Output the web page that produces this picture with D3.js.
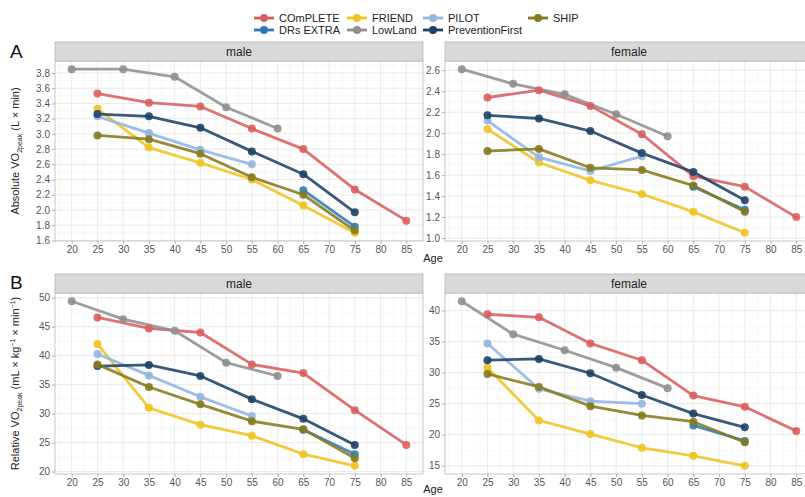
<!DOCTYPE html>
<html><head><meta charset="utf-8">
<script src="https://cdn.jsdelivr.net/npm/d3@7"></script>
<style>
html,body{margin:0;padding:0;background:#fff;}
svg text{font-family:"Liberation Sans",Arial,sans-serif;}
</style></head>
<body><svg id="c" width="805" height="497"></svg>
<script>
// ---- data ----
const studies = ["COmPLETE","DRs EXTRA","FRIEND","LowLand","PILOT","PreventionFirst","SHIP"];
const colors  = ["#d95f5f","#2b7bba","#f0c322","#8f8f8f","#93b5e1","#1d4266","#857a1c"];
const legendRow1 = ["COmPLETE","FRIEND","PILOT","SHIP"];
const legendRow2 = ["DRs EXTRA","LowLand","PreventionFirst"];
const ages = [
  [25,35,45,55,65,75,85],
  [65,75],
  [25,35,45,55,65,75],
  [20,30,40,50,60],
  [25,35,45,55],
  [25,35,45,55,65,75],
  [25,35,45,55,65,75]
];
const absMale = [
  [3.53,3.41,3.36,3.07,2.80,2.27,1.86],
  [2.26,1.78],
  [3.33,2.82,2.62,2.40,2.06,1.70],
  [3.85,3.85,3.75,3.35,3.07],
  [3.23,3.01,2.79,2.60],
  [3.26,3.23,3.08,2.77,2.47,1.97],
  [2.98,2.93,2.74,2.43,2.20,1.73]
];
const absFemale = [
  [2.34,2.41,2.26,1.99,1.59,1.49,1.20],
  [1.49,1.27],
  [2.04,1.72,1.55,1.42,1.25,1.05],
  [2.61,2.47,2.37,2.18,1.97],
  [2.12,1.77,1.64,1.78],
  [2.17,2.14,2.02,1.81,1.63,1.36],
  [1.83,1.85,1.67,1.65,1.50,1.25]
];
const relMale = [
  [46.6,44.7,44.0,38.5,37.0,30.6,24.6],
  [27.2,23.0],
  [42.0,31.0,28.1,26.2,23.0,21.0],
  [49.4,46.3,44.3,38.8,36.5],
  [40.3,36.6,32.9,29.6],
  [38.2,38.4,36.5,32.5,29.1,24.6],
  [38.5,34.6,31.6,28.7,27.3,22.3]
];
const relFemale = [
  [39.4,38.9,34.7,32.0,26.3,24.5,20.6],
  [21.5,19.0],
  [30.8,22.3,20.1,17.9,16.6,15.0],
  [41.5,36.2,33.6,30.8,27.5],
  [34.7,27.4,25.4,25.0],
  [32.0,32.2,29.9,26.4,23.4,21.2],
  [29.8,27.7,24.6,23.1,22.1,18.8]
];
const xTicks = [20,25,30,35,40,45,50,55,60,65,70,75,80,85];
const yTicksAbsMale = [1.6,1.8,2.0,2.2,2.4,2.6,2.8,3.0,3.2,3.4,3.6,3.8];
const yTicksAbsFemale = [1.0,1.2,1.4,1.6,1.8,2.0,2.2,2.4,2.6];
const yTicksRelMale = [20,25,30,35,40,45,50];
const yTicksRelFemale = [15,20,25,30,35,40];
const stripLabels = ["male","female"];

// ---- layout ----
const svg = d3.select("#c");
const colX = [[55,423],[445,813]];
const rows = [
  {strip:[42,61], plot:[61,241], tag:"A", tagY:58, ageY:262},
  {strip:[274,293], plot:[293,474], tag:"B", tagY:289, ageY:493}
];
const panels = [
  {r:0,c:0,vals:absMale,ticks:yTicksAbsMale},
  {r:0,c:1,vals:absFemale,ticks:yTicksAbsFemale},
  {r:1,c:0,vals:relMale,ticks:yTicksRelMale},
  {r:1,c:1,vals:relFemale,ticks:yTicksRelFemale}
];
function expand(ext){const d=(ext[1]-ext[0])*0.05;return [ext[0]-d,ext[1]+d];}
const xAll = d3.extent(ages.flat());
const LW = 2.8, PR = 4;

panels.forEach(p=>{
  const row = rows[p.r], cx = colX[p.c];
  const x = d3.scaleLinear().domain(expand(xAll)).range(cx);
  const y = d3.scaleLinear().domain(expand(d3.extent(p.vals.flat()))).range([row.plot[1],row.plot[0]]);
  const g = svg.append("g");
  const [x0,x1]=cx,[y0,y1]=row.plot;
  g.append("rect").attr("x",x0).attr("y",y0).attr("width",x1-x0).attr("height",y1-y0).attr("fill","#fff");
  // minor grid
  const xs = xTicks[1]-xTicks[0];
  const xMinor = d3.range(xTicks[0]-xs/2, xTicks[xTicks.length-1]+xs, xs).filter(v=>v>x.domain()[0]&&v<x.domain()[1]);
  const ys = p.ticks[1]-p.ticks[0];
  const yMinor = d3.range(p.ticks[0]-ys/2, p.ticks[p.ticks.length-1]+ys, ys).filter(v=>v>y.domain()[0]&&v<y.domain()[1]);
  g.selectAll(".xm").data(xMinor).enter().append("line").attr("x1",d=>x(d)).attr("x2",d=>x(d)).attr("y1",y0).attr("y2",y1).attr("stroke","#f4f4f4").attr("stroke-width",0.6);
  g.selectAll(".ym").data(yMinor).enter().append("line").attr("y1",d=>y(d)).attr("y2",d=>y(d)).attr("x1",x0).attr("x2",x1).attr("stroke","#f4f4f4").attr("stroke-width",0.6);
  g.selectAll(".xg").data(xTicks).enter().append("line").attr("x1",d=>x(d)).attr("x2",d=>x(d)).attr("y1",y0).attr("y2",y1).attr("stroke","#e8e8e8").attr("stroke-width",0.9);
  g.selectAll(".yg").data(p.ticks).enter().append("line").attr("y1",d=>y(d)).attr("y2",d=>y(d)).attr("x1",x0).attr("x2",x1).attr("stroke","#e8e8e8").attr("stroke-width",0.9);
  // series
  const line = d3.line().x(d=>x(d[0])).y(d=>y(d[1]));
  studies.forEach((s,i)=>{
    const pts = ages[i].map((a,j)=>[a,p.vals[i][j]]);
    g.append("path").datum(pts).attr("d",line).attr("fill","none").attr("stroke",colors[i]).attr("stroke-width",LW).attr("stroke-opacity",0.88).attr("stroke-linejoin","round");
  });
  studies.forEach((s,i)=>{
    const pts = ages[i].map((a,j)=>[a,p.vals[i][j]]);
    g.selectAll(null).data(pts).enter().append("circle").attr("cx",d=>x(d[0])).attr("cy",d=>y(d[1])).attr("r",PR).attr("fill",colors[i]).attr("fill-opacity",0.9);
  });
  // border
  g.append("rect").attr("x",x0).attr("y",y0).attr("width",x1-x0).attr("height",y1-y0).attr("fill","none").attr("stroke","#b8b8b8").attr("stroke-width",0.8);
  // axes
  const xa = g.append("g").attr("transform",`translate(0,${y1})`).call(d3.axisBottom(x).tickValues(xTicks).tickSize(3).tickPadding(2));
  const ya = g.append("g").attr("transform",`translate(${x0},0)`).call(d3.axisLeft(y).tickValues(p.ticks).tickSize(3).tickPadding(2).tickFormat(p.r===0?d3.format(".1f"):d3.format("d")));
  [xa,ya].forEach(a=>{
    a.select(".domain").remove();
    a.selectAll("line").attr("stroke","#b0b0b0");
    a.selectAll("text").attr("fill","#555").style("font-size","10px");
  });
  // strip
  g.append("rect").attr("x",x0).attr("y",row.strip[0]).attr("width",x1-x0).attr("height",row.strip[1]-row.strip[0]).attr("fill","#d9d9d9").attr("stroke","#b8b8b8").attr("stroke-width",0.8);
  g.append("text").attr("x",(x0+x1)/2).attr("y",(row.strip[0]+row.strip[1])/2+4).attr("text-anchor","middle").attr("fill","#262626").style("font-size","12px").text(stripLabels[p.c]);
});

// tags, axis titles
rows.forEach((row,r)=>{
  svg.append("text").attr("x",10).attr("y",row.tagY).style("font-size","19px").attr("fill","#111").text(row.tag);
  svg.append("text").attr("x",433).attr("y",row.ageY).attr("text-anchor","middle").style("font-size","11px").attr("fill","#222").text("Age");
  const cy=(row.plot[0]+row.plot[1])/2;
  const t = svg.append("text").attr("transform",`translate(19,${cy}) rotate(-90)`).attr("text-anchor","middle").style("font-size","11px").attr("fill","#222");
  if(r===0){
    t.append("tspan").text("Absolute VO");
    t.append("tspan").attr("dy",3).style("font-size","7px").text("2peak");
    t.append("tspan").attr("dy",-3).text(" (L × min)");
  } else {
    t.append("tspan").text("Relative VO");
    t.append("tspan").attr("dy",3).style("font-size","7px").text("2peak");
    t.append("tspan").attr("dy",-3).text(" (mL × kg");
    t.append("tspan").attr("dy",-4).style("font-size","7px").text("−1");
    t.append("tspan").attr("dy",4).text(" × min");
    t.append("tspan").attr("dy",-4).style("font-size","7px").text("−1");
    t.append("tspan").attr("dy",4).text(")");
  }
});

// legend
const legTextX = [279,372,448,553];
function legItem(name,col,yc){
  const i = studies.indexOf(name);
  const tx = legTextX[col];
  const g = svg.append("g");
  g.append("line").attr("x1",tx-25).attr("x2",tx-5).attr("y1",yc).attr("y2",yc).attr("stroke",colors[i]).attr("stroke-width",LW);
  g.append("circle").attr("cx",tx-15).attr("cy",yc).attr("r",PR).attr("fill",colors[i]);
  g.append("text").attr("x",tx).attr("y",yc+4).style("font-size","11px").attr("fill","#222").text(name);
}
legendRow1.forEach((n,k)=>legItem(n,k,18));
legendRow2.forEach((n,k)=>legItem(n,k,30));
</script></body></html>
